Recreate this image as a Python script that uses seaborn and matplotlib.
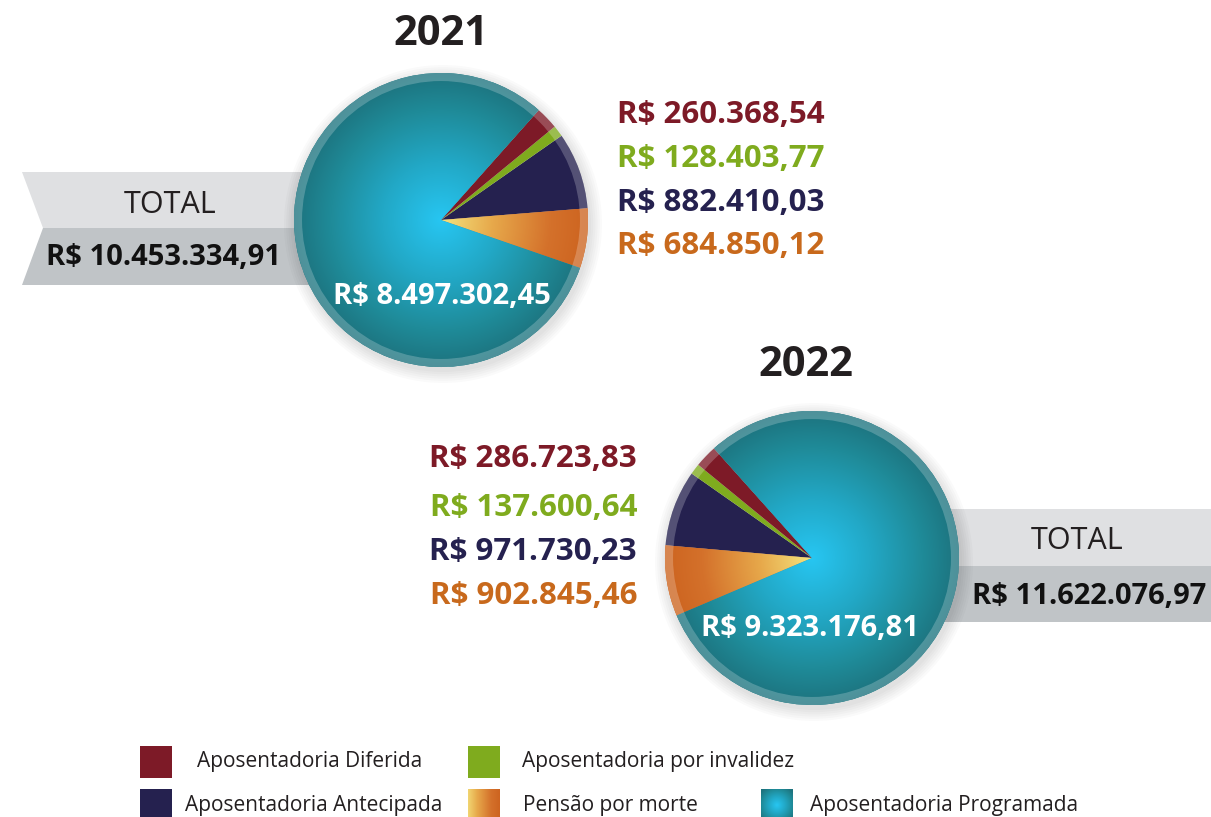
import numpy as np
import matplotlib.pyplot as plt
import seaborn as sns
from matplotlib.patches import Polygon, Circle, Rectangle
from matplotlib.colors import LinearSegmentedColormap

sns.set_theme(style='white')

# data
categories = ['Aposentadoria Diferida', 'Aposentadoria por invalidez',
              'Aposentadoria Antecipada', 'Pensão por morte',
              'Aposentadoria Programada']
years = ['2021', '2022']
values_2021 = [260368.54, 128403.77, 882410.03, 684850.12, 8497302.45]
values_2022 = [286723.83, 137600.64, 971730.23, 902845.46, 9323176.81]
colors = sns.color_palette(['#7d1a27', '#7fab1e', '#25214f', '#d0691f', '#1f7f8a'])
label_colors = ['#7d1a27', '#7fab1e', '#25214f', '#c8691c']

FB = ['Open Sans', 'DejaVu Sans']
FL = ['Liberation Sans Narrow', 'Open Sans', 'DejaVu Sans']

W, H = 1211, 817
teal_cmap = LinearSegmentedColormap.from_list(
    'teal', [(0, '#27c6f2'), (0.4, '#22a8c6'), (0.75, '#1f8b99'), (1, '#1d737e')])
orange_cmap = LinearSegmentedColormap.from_list(
    'orange', [(0, '#f4e47f'), (0.35, '#e7a94b'), (0.75, '#d4712b'), (1, '#cd6420')])


def brl(v):
    s = f'{v:,.2f}'
    return 'R$ ' + s.replace(',', 'X').replace('.', ',').replace('X', '.')


def radial(ax, cx, cy, r, cmap, clip, z):
    g = np.linspace(-1, 1, 300)
    X, Y = np.meshgrid(g, g)
    im = ax.imshow(np.sqrt(X**2 + Y**2), cmap=cmap, vmin=0, vmax=1,
                   extent=(cx - r, cx + r, cy - r, cy + r), origin='lower',
                   interpolation='bilinear', zorder=z)
    im.set_clip_path(clip)


fig = plt.figure(figsize=(W / 100, H / 100), dpi=100)
ax = fig.add_axes([0, 0, 1, 1])

# pie drawn in order: Pensao, Antecipada, Invalidez, Diferida, Programada
order = [3, 2, 1, 0, 4]


def draw_pie(vals, cx, cy, r, start, ccw):
    for k in range(6):
        ax.add_patch(Circle((cx + 2, cy - 4), r + 1 + k * 2.2, color='black',
                            alpha=0.018, lw=0, zorder=0.8))
    wedges, _ = ax.pie([vals[i] for i in order], colors=[colors[i] for i in order],
                       center=(cx, cy), radius=r, startangle=start,
                       counterclock=ccw, frame=True,
                       wedgeprops=dict(linewidth=0))
    radial(ax, cx, cy, r, orange_cmap, wedges[0], 1.5)
    radial(ax, cx, cy, r, teal_cmap, wedges[4], 1.5)
    ax.add_patch(Circle((cx, cy), r - 4, fill=False, edgecolor='white',
                        alpha=0.22, lw=5.8, zorder=3))


# banners
ax.add_patch(Polygon([(22, H - 172), (441, H - 172), (441, H - 228), (43, H - 228)],
                     closed=True, color='#dfe0e2', lw=0, zorder=0.5))
ax.add_patch(Polygon([(43, H - 228), (441, H - 228), (441, H - 285), (22, H - 285)],
                     closed=True, color='#c0c4c7', lw=0, zorder=0.5))
ax.add_patch(Rectangle((812, H - 566), W - 812, 57, color='#dfe0e2', lw=0, zorder=0.5))
ax.add_patch(Rectangle((812, H - 622), W - 812, 56, color='#c0c4c7', lw=0, zorder=0.5))

draw_pie(values_2021, 441, H - 220, 147, -19, True)
draw_pie(values_2022, 812, H - 558, 147, 203, False)

# titles
ax.text(441, H - 34, years[0], ha='center', va='center', fontsize=30,
        fontweight='bold', color='#231f20', family=FB)
ax.text(806, H - 365, years[1], ha='center', va='center', fontsize=30,
        fontweight='bold', color='#231f20', family=FB)

# totals
ax.text(170, H - 205, 'TOTAL', ha='center', va='center', fontsize=22,
        color='#231f20', family=FL)
ax.text(163, H - 257, brl(sum(values_2021)), ha='center', va='center',
        fontsize=21, fontweight='bold', color='#111111', family=FB)
ax.text(1077, H - 541, 'TOTAL', ha='center', va='center', fontsize=22,
        color='#231f20', family=FL)
ax.text(1089, H - 596, brl(sum(values_2022)), ha='center', va='center',
        fontsize=21, fontweight='bold', color='#111111', family=FB)

# slice labels
for i, y in enumerate([115, 159, 203, 246]):
    ax.text(617, H - y, brl(values_2021[i]), ha='left', va='center', fontsize=22.5,
            fontweight='bold', color=label_colors[i], family=FB)
for i, y in enumerate([459, 508, 552, 596]):
    ax.text(637, H - y, brl(values_2022[i]), ha='right', va='center', fontsize=22.5,
            fontweight='bold', color=label_colors[i], family=FB)
ax.text(442, H - 296, brl(values_2021[4]), ha='center', va='center', fontsize=21,
        fontweight='bold', color='white', family=FB, zorder=4)
ax.text(810, H - 628, brl(values_2022[4]), ha='center', va='center', fontsize=21,
        fontweight='bold', color='white', family=FB, zorder=4)

# legend
leg_pos = [(140, 746, 197), (468, 746, 522), (140, 789, 185), (468, 789, 523), (761, 789, 810)]
g = np.linspace(0, 1, 100)
for i, (sx, sy, tx) in enumerate(leg_pos):
    ext = (sx, sx + 32, H - sy - 32, H - sy)
    if i == 3:
        ax.imshow(g[None, :], cmap=orange_cmap, vmin=-0.1, vmax=1, extent=ext,
                  aspect='auto', zorder=2)
    elif i == 4:
        xx, yy = np.meshgrid(np.linspace(-1, 1, 60), np.linspace(-1, 1, 60))
        ax.imshow(np.sqrt(xx**2 + yy**2) / 1.3, cmap=teal_cmap, vmin=0, vmax=1,
                  extent=ext, aspect='auto', zorder=2)
    else:
        ax.add_patch(Rectangle((sx, H - sy - 32), 32, 32, color=colors[i], lw=0))
    ax.text(tx, H - sy - 16, categories[i], ha='left', va='center', fontsize=15,
            color='#231f20', family=FL)

ax.set_xlim(0, W)
ax.set_ylim(0, H)
ax.set_aspect('auto')
ax.axis('off')
fig.savefig('out.png', dpi=100)
